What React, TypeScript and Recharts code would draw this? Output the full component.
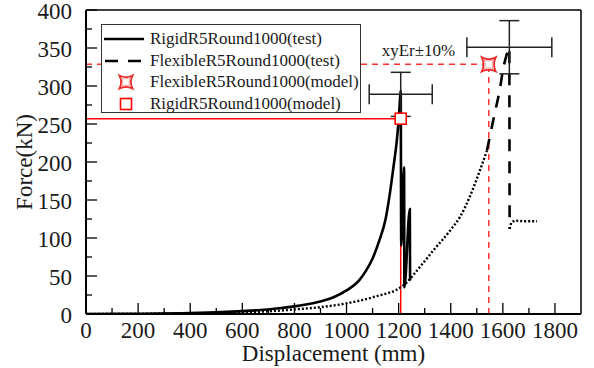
import React from 'react';
import {
  ComposedChart, Line, Scatter, XAxis, YAxis, ErrorBar, ReferenceLine, ReferenceDot, Legend,
} from 'recharts';

// --- Data ---
const rigidDisp = [0, 200, 400, 500, 600, 650, 700, 750, 800, 850, 900, 950, 1000, 1050, 1075, 1100, 1125, 1150, 1167, 1180, 1193, 1200, 1205, 1208, 1210, 1221, 1222, 1243, 1244];
const rigidForce = [0, 0.3, 1.2, 2.2, 3.8, 4.8, 6, 7.8, 10, 12.8, 16.5, 22, 31, 45, 57, 73, 96, 125, 160, 193, 228, 255, 281, 294, 90, 193, 35, 138, 44];

// flexible test: dotted low part, dashed steep part, dotted tail after the drop
const flexDispLow = [0, 200, 400, 600, 700, 800, 900, 1000, 1100, 1218, 1282, 1334, 1398, 1436, 1474, 1513, 1539];
const flexForceLow = [0, 0.2, 0.8, 2.2, 3.5, 6, 9, 14, 22, 37.5, 62, 84, 110, 128, 155, 190, 215];
const flexDispHigh = [1539, 1551, 1570, 1587, 1602, 1615, 1625, 1626];
const flexForceHigh = [215, 235, 266, 292, 325, 342, 351, 112];
const flexDispTail = [1626, 1632, 1645, 1680, 1731];
const flexForceTail = [112, 120, 123, 122, 122];

// model results
const rigidModel = { x: 1208, y: 257 };
const flexModel = { x: 1546, y: 328.5 };

// test peaks with ±10% error bars
const errCenters = [
  { x: 1208, y: 289, ex: 121, ey: 29 },
  { x: 1625, y: 351, ex: 163, ey: 35 },
];

const xTicks = [0, 100, 200, 300, 400, 500, 600, 700, 800, 900, 1000, 1100, 1200, 1300, 1400, 1500, 1600, 1700, 1800];
const yTicks = [0, 25, 50, 75, 100, 125, 150, 175, 200, 225, 250, 275, 300, 325, 350, 375, 400];

const legendItems = [
  { name: 'RigidR5Round1000(test)', kind: 'solid' },
  { name: 'FlexibleR5Round1000(test)', kind: 'dashed' },
  { name: 'FlexibleR5Round1000(model)', kind: 'star' },
  { name: 'RigidR5Round1000(model)', kind: 'square' },
];

const zip = (xs: number[], ys: number[]) => xs.map((x, i) => ({ x, y: ys[i] }));

const FONT = '"Liberation Serif", "Times New Roman", serif';
const TXT = '#1a1a1a';
const RED = '#ff0000';
const RED_DASH = '#ff3030';

const StarPath = ({ cx, cy, s = 7 }: { cx: number; cy: number; s?: number }) => {
  const p = (k: number) =>
    `M${cx - k},${cy - k} Q${cx},${cy - k / 2} ${cx + k},${cy - k} Q${cx + k / 2},${cy} ${cx + k},${cy + k} ` +
    `Q${cx},${cy + k / 2} ${cx - k},${cy + k} Q${cx - k / 2},${cy} ${cx - k},${cy - k} Z`;
  return (
    <g>
      <path d={p(s)} fill="#fff" stroke="#ee2a2a" strokeWidth={1.8} />
      <path d={p(s * 0.62)} fill="none" stroke="#f7a0a0" strokeWidth={1} />
    </g>
  );
};

const SquareMark = ({ cx, cy }: { cx: number; cy: number }) => (
  <rect x={cx - 5.5} y={cy - 5.5} width={11} height={11} fill="#fff" stroke={RED} strokeWidth={1.6} />
);

const XTick = (props: any) => {
  const { x, y, payload } = props;
  const major = payload.value % 200 === 0;
  return (
    <g>
      <line x1={x} x2={x} y1={y} y2={y - (major ? 11 : 6)} stroke="#000" strokeWidth={1.3} />
      {major && (
        <text x={x} y={y + 24} textAnchor="middle" fontSize={23} fontFamily={FONT} fill={TXT}>
          {payload.value}
        </text>
      )}
    </g>
  );
};

const YTick = (props: any) => {
  const { x, y, payload } = props;
  const major = payload.value % 50 === 0;
  return (
    <g>
      <line x1={x} x2={x + (major ? 11 : 6)} y1={y} y2={y} stroke="#000" strokeWidth={1.3} />
      {major && (
        <text x={x - 14} y={y + 8.5} textAnchor="end" fontSize={23} fontFamily={FONT} fill={TXT}>
          {payload.value}
        </text>
      )}
    </g>
  );
};

const LegendBox = () => (
  <div
    style={{
      width: 260, height: 89, border: '1.5px solid #333', background: '#fff',
      paddingTop: 3, boxSizing: 'border-box', fontFamily: FONT, fontSize: 17, color: TXT,
    }}
  >
    {legendItems.map(item => (
      <div key={item.name} style={{ height: 21.7, display: 'flex', alignItems: 'center' }}>
        <svg width={44} height={20} style={{ marginLeft: 1, marginRight: 3 }}>
          {item.kind === 'solid' && <line x1={1} x2={41} y1={10} y2={10} stroke="#000" strokeWidth={2.5} />}
          {item.kind === 'dashed' && <line x1={2} x2={41} y1={10} y2={10} stroke="#000" strokeWidth={2.5} strokeDasharray="13 10" />}
          {item.kind === 'star' && <StarPath cx={23} cy={10} s={6.5} />}
          {item.kind === 'square' && <SquareMark cx={23} cy={10} />}
        </svg>
        <span style={{ lineHeight: '20px' }}>{item.name}</span>
      </div>
    ))}
  </div>
);

const YTitle = (props: any) => {
  const { viewBox } = props;
  const cy = viewBox.y + viewBox.height / 2;
  return (
    <text x={32} y={cy} transform={`rotate(-90, 32, ${cy})`} textAnchor="middle" fontSize={23} fontFamily={FONT} fill={TXT}>
      Force(kN)
    </text>
  );
};

const XTitle = (props: any) => {
  const { viewBox } = props;
  const cx = viewBox.x + viewBox.width / 2;
  return (
    <text x={cx} y={361} textAnchor="middle" fontSize={23} fontFamily={FONT} fill={TXT}>
      Displacement (mm)
    </text>
  );
};

const App: React.FC = () => {
  const rigidData = zip(rigidDisp, rigidForce);
  const flexLow = zip(flexDispLow, flexForceLow);
  const flexHigh = zip(flexDispHigh, flexForceHigh);
  const flexTail = zip(flexDispTail, flexForceTail);

  return (
    <div style={{ width: 594, height: 368, fontFamily: FONT }}>
      <style>{'body{margin:0}'}</style>
      <ComposedChart width={594} height={368} margin={{ top: 10, right: 13, left: 0, bottom: 0 }}>
        <XAxis
          type="number" dataKey="x" domain={[0, 1900]} ticks={xTicks} allowDataOverflow
          height={54} tickSize={0} tickMargin={0} tickLine={false} tick={<XTick />} interval={0}
          axisLine={{ stroke: '#000', strokeWidth: 2 }}
          label={<XTitle />}
        />
        <YAxis
          type="number" dataKey="y" domain={[0, 400]} ticks={yTicks} allowDataOverflow
          width={86} tickSize={0} tickMargin={0} tickLine={false} tick={<YTick />} interval={0}
          axisLine={{ stroke: '#000', strokeWidth: 2 }}
          label={<YTitle />}
        />
        <ReferenceLine y={400} stroke="#000" strokeWidth={1.5} />
        <ReferenceLine x={1900} stroke="#000" strokeWidth={1.5} />

        {/* model cross-hair guides */}
        <ReferenceLine segment={[{ x: 0, y: rigidModel.y }, { x: rigidModel.x, y: rigidModel.y }]} stroke={RED} strokeWidth={1.5} />
        <ReferenceLine segment={[{ x: rigidModel.x, y: 0 }, { x: rigidModel.x, y: rigidModel.y }]} stroke={RED} strokeWidth={1.5} />
        <ReferenceLine segment={[{ x: 0, y: flexModel.y }, { x: flexModel.x, y: flexModel.y }]} stroke={RED_DASH} strokeWidth={1.5} strokeDasharray="6 5" />
        <ReferenceLine segment={[{ x: flexModel.x, y: 0 }, { x: flexModel.x, y: flexModel.y }]} stroke={RED_DASH} strokeWidth={1.5} strokeDasharray="6 5" />

        <Line data={rigidData} dataKey="y" type="monotone" stroke="#000" strokeWidth={2.6} dot={false} isAnimationActive={false} />
        <Line data={flexLow} dataKey="y" type="monotone" stroke="#000" strokeWidth={2.4} strokeDasharray="2 2" dot={false} isAnimationActive={false} />
        <Line data={flexHigh} dataKey="y" type="linear" stroke="#000" strokeWidth={2.6} strokeDasharray="12 10" dot={false} isAnimationActive={false} />
        <Line data={flexTail} dataKey="y" type="linear" stroke="#000" strokeWidth={2.4} strokeDasharray="2 2" dot={false} isAnimationActive={false} />

        <Scatter data={errCenters} shape={() => <g />} isAnimationActive={false}>
          <ErrorBar dataKey="ex" direction="x" width={10} stroke="#222" strokeWidth={1.5} />
          <ErrorBar dataKey="ey" direction="y" width={10} stroke="#222" strokeWidth={1.5} />
        </Scatter>
        <Scatter data={[rigidModel]} shape={(p: any) => <SquareMark cx={p.cx} cy={p.cy} />} isAnimationActive={false} />
        <Scatter data={[flexModel]} shape={(p: any) => <StarPath cx={p.cx} cy={p.cy} />} isAnimationActive={false} />

        <ReferenceDot
          x={1276} y={347} r={0} fill="none" stroke="none"
          label={{ value: 'xyEr±10%', position: 'center', fontSize: 17, fontFamily: FONT, fill: TXT }}
        />

        <Legend
          layout="vertical" align="center" verticalAlign="middle"
          wrapperStyle={{ left: 101, top: 24, width: 260 }}
          content={() => <LegendBox />}
        />
      </ComposedChart>
    </div>
  );
};

export default App;
